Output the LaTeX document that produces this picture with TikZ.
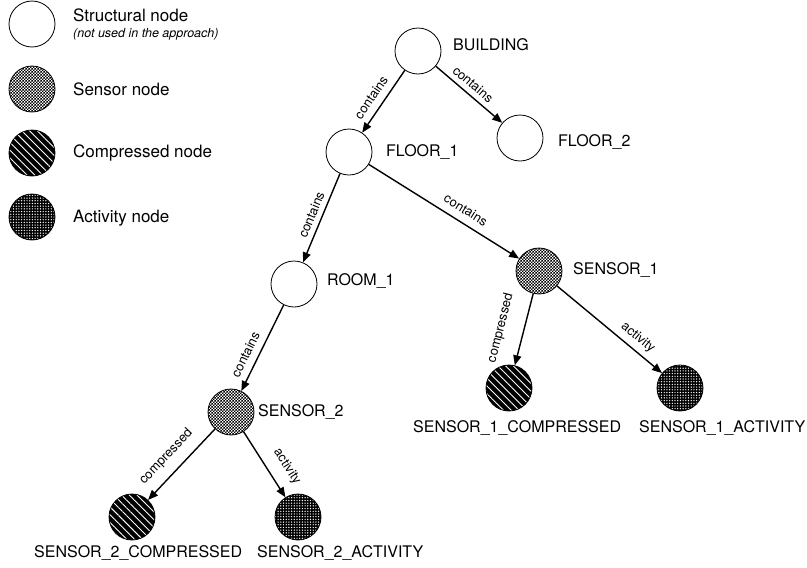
\documentclass[tikz,border=0pt]{standalone}
\usepackage{fontspec}
\setmainfont{TeX Gyre Heros}
\usetikzlibrary{positioning,arrows.meta,patterns,patterns.meta}

% small checker for the sensor nodes
\pgfdeclarepatternformonly{finechecker}{\pgfpointorigin}{\pgfqpoint{3.4pt}{3.4pt}}{\pgfqpoint{3.4pt}{3.4pt}}{
    \pgfpathrectangle{\pgfpointorigin}{\pgfqpoint{1.7pt}{1.7pt}}
    \pgfpathrectangle{\pgfqpoint{1.7pt}{1.7pt}}{\pgfqpoint{1.7pt}{1.7pt}}
    \pgfusepath{fill}}

\tikzset{
    roundnode/.style={circle, draw, line width=0.8pt, minimum size=46pt, inner sep=0pt},
    structural/.style={roundnode, fill=white},
    sensor/.style={roundnode, preaction={fill=white}, pattern=finechecker},
    compressed/.style={roundnode, preaction={fill=black},
        pattern={Lines[angle=-45, distance=5.5pt, line width=0.9pt]}, pattern color=white},
    activity/.style={roundnode, preaction={fill=black},
        pattern={Dots[distance=2.7pt, radius=0.7pt]}, pattern color=white},
    nodename/.style={inner sep=0pt, anchor=west, font=\fontsize{16}{19}\selectfont},
    legendtext/.style={inner sep=0pt, anchor=west, font=\fontsize{17}{20}\selectfont},
    legendnote/.style={inner sep=0pt, anchor=west, font=\fontsize{12.5}{15}\selectfont\itshape},
    rel/.style={line width=1.4pt, -{Triangle[length=10pt, width=8pt]}},
    rellabel/.style={sloped, above, inner sep=#1, font=\fontsize{13}{15}\selectfont},
    rellabel/.default=6pt
}

\begin{document}
\begin{tikzpicture}[x=1pt, y=-1pt, line join=round]
\useasboundingbox (0,0) rectangle (807,568);

% legend
\node[structural] (LS) at (32,24) {};
\node[sensor] (LN) at (32,89) {};
\node[compressed] (LC) at (32,153) {};
\node[activity] (LA) at (32,217) {};
\node[legendtext] (LSt) at (73,15) {Structural node};
\node[legendnote] (LSn) at (73,34) {(not used in the approach)};
\node[legendtext] (LNt) at (73,89) {Sensor node};
\node[legendtext] (LCt) at (73,153) {Compressed node};
\node[legendtext] (LAt) at (73,218) {Activity node};

% tree
\node[structural] (B) at (418,51) {};
\node[structural] (F1) at (349,152) {};
\node[structural] (F2) at (520,138) {};
\node[structural] (R1) at (294,284) {};
\node[sensor] (S1) at (539,271) {};
\node[sensor] (S2) at (231,412) {};
\node[compressed] (S1C) at (509,388) {};
\node[activity] (S1A) at (680,388) {};
\node[compressed] (S2C) at (132,517) {};
\node[activity] (S2A) at (298,517) {};

\node[nodename] (lB) at (453,45) {BUILDING};
\node[nodename] (lF1) at (386,152) {FLOOR\_1};
\node[nodename] (lF2) at (558,142) {FLOOR\_2};
\node[nodename] (lR1) at (327,281) {ROOM\_1};
\node[nodename] (lS1) at (573,270) {SENSOR\_1};
\node[nodename] (lS2) at (258,412) {SENSOR\_2};
\node[nodename] (lS1C) at (413,428) {SENSOR\_1\_COMPRESSED};
\node[nodename] (lS1A) at (639,428) {SENSOR\_1\_ACTIVITY};
\node[nodename] (lS2C) at (34,553) {SENSOR\_2\_COMPRESSED};
\node[nodename] (lS2A) at (257,553) {SENSOR\_2\_ACTIVITY};

\draw[rel] (B) -- node[rellabel=7pt, pos=0.55] {contains} (F1);
\draw[rel] (B) -- node[rellabel=5pt, pos=0.46] {contains} (F2);
\draw[rel] (F1) -- node[rellabel=5pt, pos=0.51] {contains} (R1);
\draw[rel] (F1) -- node[rellabel=7.5pt, pos=0.6] {contains} (S1);
\draw[rel] (R1) -- node[rellabel=7pt, pos=0.64] {contains} (S2);
\draw[rel] (S1) -- node[rellabel=16pt, pos=0.56] {compressed} (S1C);
\draw[rel] (S1) -- node[rellabel=5pt, pos=0.7] {activity} (S1A);
\draw[rel] (S2) -- node[rellabel=9.5pt, pos=0.55] {compressed} (S2C);
\draw[rel] (S2) -- node[rellabel=11pt, pos=0.68] {activity} (S2A);
\end{tikzpicture}
\end{document}
